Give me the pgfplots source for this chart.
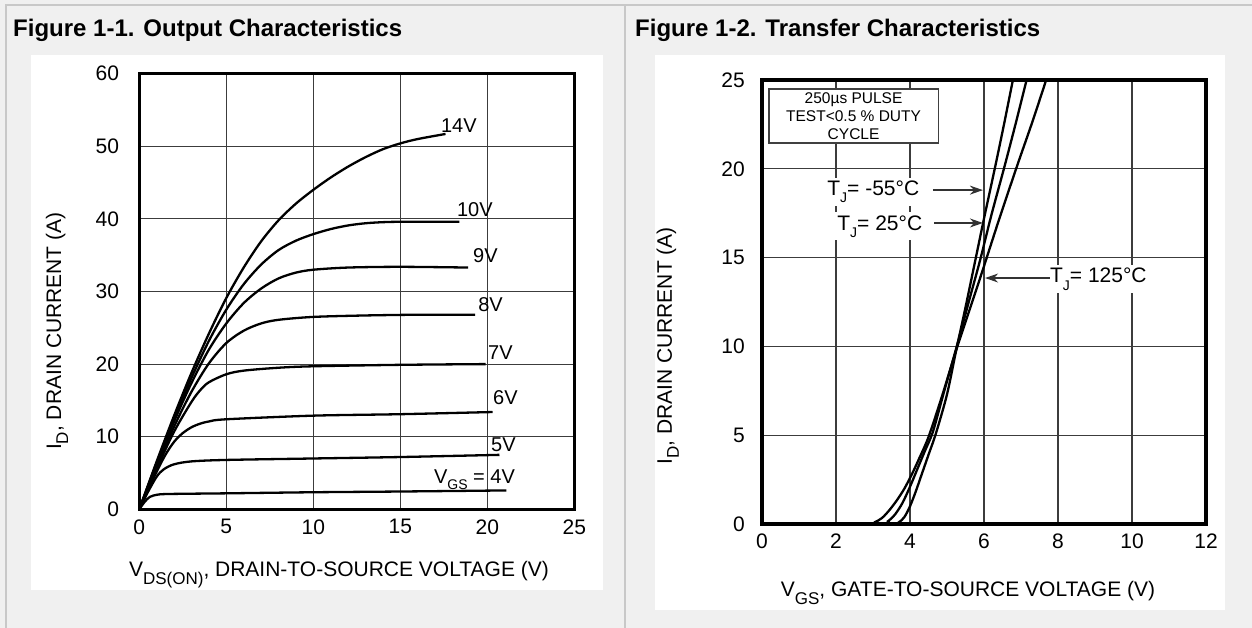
\documentclass[border=0pt]{standalone}
\usepackage{pgfplots}
\pgfplotsset{compat=1.18}
\usetikzlibrary{arrows.meta}
\usepackage{fontspec}
\setmainfont{Liberation Sans}

\definecolor{bggray}{RGB}{240,240,240}
\definecolor{rulec}{RGB}{200,200,200}
\definecolor{gridc}{RGB}{60,60,60}
\definecolor{arrowc}{RGB}{50,50,50}

\newcommand\subs[3]{\raisebox{-#2}{\fontsize{#1}{#1}\selectfont #3}}

\pgfplotsset{
  dsheet/.style={
    scale only axis,
    clip=false,
    axis line style={line width=3.2pt, black},
    grid=major,
    major grid style={line width=1.1pt, gridc},
    major tick length=0pt,
    /pgf/number format/assume math mode=true,
    tick label style={font=\fontsize{21}{25}\selectfont},
    label style={font=\fontsize{21}{25}\selectfont},
    xticklabel style={inner sep=0pt, anchor=north, yshift=-10pt},
  },
  curve/.style={black, solid, line width=2.3pt, mark=none, smooth},
}

\begin{document}
\begin{tikzpicture}[x=1pt,y=1pt]
\useasboundingbox (0,0) rectangle (1252,-628);
\fill[bggray] (0,0) rectangle (1252,-628);
\draw[rulec, line width=1.5pt] (6,-628) -- (6,-5) -- (1252,-5);
\draw[rulec, line width=1.5pt] (625,-5) -- (625,-628);
\fill[white] (31,-55) rectangle (603,-590);
\fill[white] (655,-55) rectangle (1225,-610);

\node[anchor=base west, inner sep=0pt, font=\bfseries\fontsize{24}{28}\selectfont] at (13,-37) {Figure 1-1. Output Characteristics};
\node[anchor=base west, inner sep=0pt, font=\bfseries\fontsize{24}{28}\selectfont] at (635,-37) {Figure 1-2. Transfer Characteristics};

% Output characteristics
\begin{axis}[dsheet,
  at={(139.3pt,-509.3pt)}, anchor=south west,
  width=435pt, height=435.6pt,
  xmin=0, xmax=25, ymin=0, ymax=60,
  xtick={0,5,...,25}, ytick={0,10,...,60},
  yticklabel style={inner sep=0pt, anchor=east, xshift=-20pt},
  xlabel={V\subs{17}{8pt}{DS(ON)}, DRAIN-TO-SOURCE VOLTAGE (V)},
  ylabel={I\subs{17}{7pt}{D}, DRAIN CURRENT (A)},
  xlabel style={at={(axis description cs:0.459,-0.155)}, anchor=base},
  ylabel style={at={(axis description cs:-0.189,0.409)}, anchor=center},
]
% VGS = 4V
\addplot[curve] coordinates {(0,0) (0.3,1.0) (0.6,1.7) (1,2.0) (1.5,2.1) (3,2.15) (5,2.2) (10,2.35) (15,2.45) (21.1,2.6)};
% 5V
\addplot[curve] coordinates {(0,0) (0.5,2.4) (1,4.5) (1.4,5.5) (2,6.2) (3,6.6) (5,6.8) (10,7.0) (15,7.2) (20.7,7.5)};
% 6V
\addplot[curve] coordinates {(0,0) (0.5,2.7) (1,5.2) (1.5,7.5) (2,9.3) (2.5,10.5) (3,11.3) (3.5,11.8) (4,12.1) (5,12.4) (10,12.9) (15,13.1) (20.3,13.4)};
% 7V
\addplot[curve] coordinates {(0,0) (1,5.6) (2,10.7) (3,14.8) (3.5,16.4) (4,17.5) (5,18.6) (6,19.1) (8,19.5) (10,19.7) (15,19.9) (19.9,20.0)};
% 8V
\addplot[curve] coordinates {(0,0) (1,5.9) (2,11.4) (3,16.2) (4,20.1) (5,22.9) (6,24.6) (7,25.6) (8,26.1) (10,26.5) (13,26.7) (16,26.8) (19.3,26.8)};
% 9V
\addplot[curve] coordinates {(0,0) (1,6.2) (2,12.1) (3,17.4) (4,22) (5,25.6) (6,28.4) (7,30.4) (8,31.8) (9,32.6) (10,33.0) (12,33.3) (15,33.4) (18.9,33.3)};
% 10V
\addplot[curve] coordinates {(0,0) (1,6.4) (2,12.5) (3,18.1) (4,23.2) (5,27.5) (6,31) (7,33.7) (8,35.7) (9,37) (10,37.9) (11,38.6) (12,39.1) (13,39.4) (14,39.55) (15,39.6) (18.4,39.6)};
% 14V
\addplot[curve] coordinates {(0,0) (1,6.6) (2,12.9) (3,18.8) (4,24.2) (5,29.1) (6,33.3) (7,36.9) (8,39.8) (9,42.1) (10,44.0) (11,45.7) (12,47.2) (13,48.5) (14,49.6) (15,50.4) (16,51.0) (17.6,51.7)};

\begin{scope}[every node/.style={anchor=base west, inner sep=0pt, font=\fontsize{20}{24}\selectfont}]
\node at (axis cs:17.33,51.9) {14V};
\node at (axis cs:18.25,40.3) {10V};
\node at (axis cs:19.18,34.0) {9V};
\node at (axis cs:19.47,27.2) {8V};
\node at (axis cs:20.04,20.7) {7V};
\node at (axis cs:20.33,14.5) {6V};
\node at (axis cs:20.21,8.0) {5V};
\node at (axis cs:16.93,3.6) {V\subs{14}{6pt}{GS} = 4V};
\end{scope}
\end{axis}

% Transfer characteristics
\begin{axis}[dsheet,
  at={(762pt,-524pt)}, anchor=south west,
  width=444pt, height=444pt,
  xmin=0, xmax=12, ymin=0, ymax=25,
  xtick={0,2,...,12}, ytick={0,5,...,25},
  yticklabel style={inner sep=0pt, anchor=east, xshift=-17pt},
  xlabel={V\subs{17}{8pt}{GS}, GATE-TO-SOURCE VOLTAGE (V)},
  ylabel={I\subs{17}{7pt}{D}, DRAIN CURRENT (A)},
  xlabel style={at={(axis description cs:0.464,-0.164)}, anchor=base},
  ylabel style={at={(axis description cs:-0.212,0.401)}, anchor=center},
]
% TJ = -55 C
\addplot[curve] coordinates {(0,0) (3.5,0) (3.7,0.1) (3.85,0.4) (4.0,1.0) (4.15,1.8) (4.3,2.7) (4.5,3.9) (4.7,5.1) (5.0,7.3) (5.25,9.8) (5.5,12.2) (5.8,15.2) (6.0,17.2) (6.3,20.1) (6.55,22.6) (6.78,25)};
% TJ = 25 C
\addplot[curve] coordinates {(0,0) (3.2,0) (3.4,0.15) (3.6,0.55) (3.8,1.2) (4.0,2.1) (4.2,3.1) (4.4,4.1) (4.62,5.2) (4.9,7.3) (5.25,9.9) (5.6,12.6) (5.9,14.9) (6.2,17.4) (6.55,20.1) (6.85,22.5) (7.15,25)};
% TJ = 125 C
\addplot[curve] coordinates {(0,0) (2.85,0) (3.05,0.1) (3.25,0.35) (3.45,0.8) (3.65,1.35) (3.85,2.0) (4.05,2.8) (4.25,3.7) (4.5,4.9) (4.85,7.1) (5.25,9.8) (5.6,12.0) (5.95,14.2) (6.4,17.1) (6.9,20.2) (7.3,22.6) (7.68,25)};

\draw[line width=1.2pt, black!75, fill=white] (axis cs:0.19,24.49) rectangle (axis cs:4.76,21.45);
\node[align=center, inner sep=0pt, font=\fontsize{15.5}{18.3}\selectfont] at (axis cs:2.475,22.97) {250µs PULSE\\TEST<0.5 \% DUTY\\CYCLE};

\begin{scope}[every node/.style={anchor=base west, fill=white, inner sep=3pt, font=\fontsize{21}{25}\selectfont}]
\node at (axis cs:1.68,18.5) {T\subs{14}{7pt}{J}= -55°C};
\node at (axis cs:1.95,16.55) {T\subs{14}{7pt}{J}= 25°C};
\node at (axis cs:7.70,13.57) {T\subs{14}{7pt}{J}= 125°C};
\end{scope}
\begin{scope}[arrowc, line width=1.3pt, -{Stealth[length=13pt, width=9pt]}]
\draw (axis cs:4.62,18.8) -- (axis cs:5.97,18.8);
\draw (axis cs:4.65,16.95) -- (axis cs:5.97,16.95);
\draw (axis cs:7.78,13.85) -- (axis cs:6.03,13.85);
\end{scope}
\end{axis}
\end{tikzpicture}
\end{document}
